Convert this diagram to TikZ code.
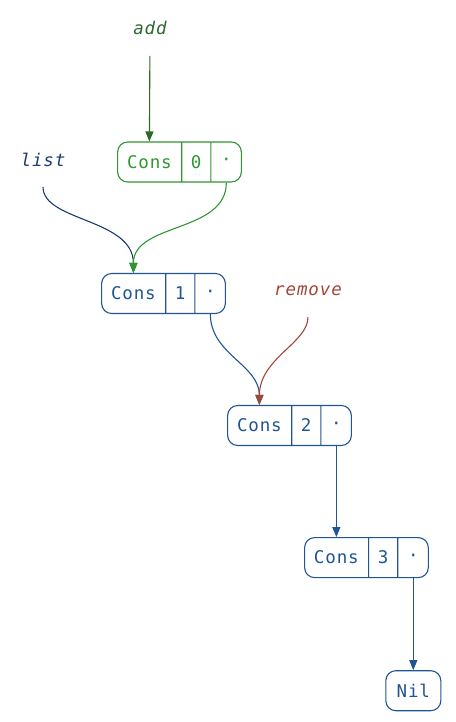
\documentclass[tikz,border=0pt]{standalone}
\usepackage{fontspec}
\newfontfamily\codefont{DejaVu Sans Mono}[LetterSpace=5]
\usetikzlibrary{arrows.meta, positioning, shapes.multipart}
\definecolor{boxblue}{HTML}{1F5593}
\definecolor{listblue}{HTML}{1B3C6E}
\definecolor{boxgreen}{HTML}{2F972F}
\definecolor{addgreen}{HTML}{2B6A2B}
\definecolor{removered}{HTML}{A3463A}
\tikzset{
    cons/.style={rectangle split, rectangle split horizontal, rectangle split parts=3,
        draw, rounded corners=10pt, inner xsep=0pt, minimum height=40pt,
        line width=1.1pt, font=\codefont\fontsize{17.5}{20}\selectfont},
    nil/.style={draw, rounded corners=10pt, minimum width=55pt, minimum height=40pt,
        line width=1.1pt, font=\codefont\fontsize{17.5}{20}\selectfont},
    ptr/.style={-{Triangle[length=10pt,width=8pt]}, line width=1.1pt},
    varname/.style={inner sep=0pt, font=\codefont\itshape\fontsize{17.5}{20}\selectfont}
}
\newcommand{\conscells}[1]{\makebox[63.5pt]{Cons}\nodepart{two}\makebox[28pt]{#1}\nodepart{three}\makebox[30pt]{·}}

\begin{document}
\begin{tikzpicture}[x=1pt, y=1pt]
    \useasboundingbox (0,0) rectangle (455,-722);
    % list cells
    \node[cons, boxgreen] (c0) at (179.5,-162) {\conscells{0}};
    \node[cons, boxblue] (c1) at (163.5,-293.5) {\conscells{1}};
    \node[cons, boxblue] (c2) at (289.5,-425.5) {\conscells{2}};
    \node[cons, boxblue, anchor=one north] (c3) at ([yshift=-91pt]c2.three south) {\conscells{3}};
    \node[nil, boxblue, anchor=north] (nil) at ([yshift=-92pt]c3.three south) {Nil};
    % names
    \node[varname, addgreen] (add) at (150,-28) {add};
    \node[varname, listblue] (list) at (43,-160) {list};
    \node[varname, removered] (remove) at (308,-291) {remove};
    % pointers
    \draw[ptr, addgreen, shorten <=21pt] (add.south) -- (c0.one north);
    \draw[ptr, listblue, shorten <=20pt] (list.south) to[out=-90, in=90] (c1.one north);
    \draw[ptr, boxgreen] (c0.three south) to[out=-90, in=90] (c1.one north);
    \draw[ptr, boxblue] (c1.three south) to[out=-90, in=90] (c2.one north);
    \draw[ptr, removered, shorten <=21pt] (remove.south) to[out=-90, in=90] (c2.one north);
    \draw[ptr, boxblue] (c2.three south) -- (c3.one north);
    \draw[ptr, boxblue] (c3.three south) -- (nil.north);
\end{tikzpicture}
\end{document}
